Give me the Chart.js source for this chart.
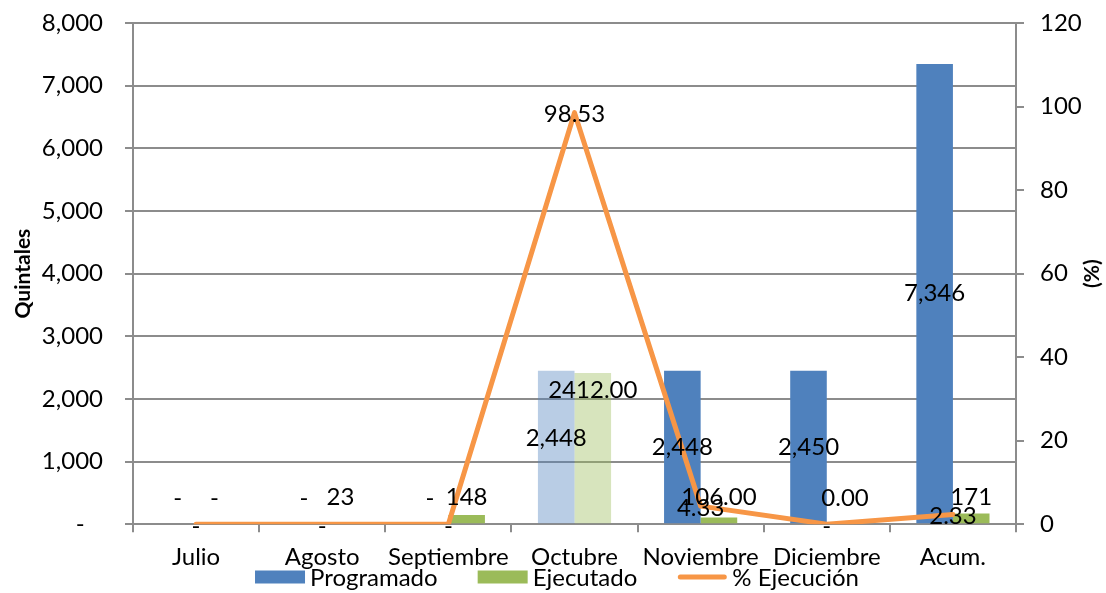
<!DOCTYPE html>
<html><head><meta charset="utf-8">
<script src="https://cdn.jsdelivr.net/npm/chart.js@4/dist/chart.umd.min.js"></script>
<style>html,body{margin:0;padding:0;background:#fff}#wrap{width:1106px;height:593px}</style>
</head><body><div id="wrap"><canvas id="c" width="1106" height="593"></canvas></div>
<script>
// ---- data ----
const categories = ['Julio', 'Agosto', 'Septiembre', 'Octubre', 'Noviembre', 'Diciembre', 'Acum.'];
const programado = [0, 0, 0, 2448, 2448, 2450, 7346];
const ejecutado = [0, 23, 148, 2412, 106, 0, 171];
const ejecucionPct = [0, 0, 0, 98.53, 4.33, 0, 2.33];
const seriesNames = ['Programado', 'Ejecutado', '% Ejecución'];
const ejecutadoFormat = ['acct', 'acct', 'acct', 'dec', 'dec', 'dec', 'acct'];
const leftTickStep = 1000, leftMax = 8000;
const rightTickStep = 20, rightMax = 120;

// ---- styles ----
const FONT = 'Lato';
const FS = 24;
const BLUE = '#4F81BD', GREEN = '#9BBB59', ORANGE = '#F79646';
const BLUE_LIGHT = 'rgba(79,129,189,0.4)', GREEN_LIGHT = 'rgba(155,187,89,0.4)';
const GRID = '#8c8c8c';
const highlightIndex = 3;
const progLabelPos = ['out', 'out', 'out', 'midhi', 'mid', 'mid', 'mid'];
const ejecLabelPos = ['out', 'out', 'out', 'in', 'out', 'out', 'out'];

const acct = v => v === 0 ? '-' : v.toLocaleString('en-US');
const fmtEjec = (v, i) => ejecutadoFormat[i] === 'dec' ? v.toFixed(2) : acct(v);
const fmtPct = v => v === 0 ? '-' : v.toFixed(2);

const labelsPlugin = {
  id: 'labels',
  afterDatasetsDraw(chart) {
    const ctx = chart.ctx;
    ctx.save();
    ctx.font = FS + 'px ' + FONT;
    ctx.fillStyle = '#000';
    ctx.textAlign = 'center';
    ctx.textBaseline = 'middle';
    const place = (el, mode) => {
      if (mode === 'mid') return (el.y + el.base) / 2;
      if (mode === 'midhi') return (el.y + el.base) / 2 - 9;
      if (mode === 'in') return el.y + 17;
      return Math.min(el.y - 12, el.base - 26);
    };
    chart.getDatasetMeta(0).data.forEach((el, i) => {
      ctx.fillText(acct(programado[i]), el.x, place(el, progLabelPos[i]));
    });
    chart.getDatasetMeta(1).data.forEach((el, i) => {
      ctx.fillText(fmtEjec(ejecutado[i], i), el.x, place(el, ejecLabelPos[i]));
    });
    chart.getDatasetMeta(2).data.forEach((el, i) => {
      ctx.fillText(fmtPct(ejecucionPct[i]), el.x, el.y + 2);
    });
    ctx.restore();
  },
  afterDraw(chart) {
    const ctx = chart.ctx;
    const ca = chart.chartArea;
    ctx.save();
    ctx.fillStyle = '#000';
    ctx.font = 'bold 21px ' + FONT;
    ctx.textAlign = 'center';
    ctx.textBaseline = 'middle';
    const midY = (ca.top + ca.bottom) / 2;
    ctx.translate(23, midY); ctx.rotate(-Math.PI / 2); ctx.fillText('Quintales', 0, 0);
    ctx.setTransform(1, 0, 0, 1, 0, 0);
    ctx.translate(1092, midY); ctx.rotate(-Math.PI / 2); ctx.fillText('(%)', 0, 0);
    ctx.setTransform(1, 0, 0, 1, 0, 0);
    // legend
    ctx.font = FS + 'px ' + FONT;
    ctx.textAlign = 'left';
    const boxW = 50, boxH = 13, gap = 5, spacing = 40, ly = 577;
    const widths = seriesNames.map(n => boxW + gap + ctx.measureText(n).width);
    const total = widths.reduce((a, b) => a + b, 0) + spacing * (widths.length - 1);
    let x = 557 - total / 2;
    const ds = chart.data.datasets;
    seriesNames.forEach((n, i) => {
      const d = ds[i];
      if (d.type === 'line') {
        ctx.strokeStyle = d.borderColor; ctx.lineWidth = 5; ctx.lineCap = 'round';
        ctx.beginPath(); ctx.moveTo(x + 3, ly); ctx.lineTo(x + boxW - 3, ly); ctx.stroke();
      } else {
        ctx.fillStyle = d.legendColor;
        ctx.fillRect(x, ly - boxH / 2, boxW, boxH);
      }
      ctx.fillStyle = '#000';
      ctx.fillText(n, x + boxW + gap, ly + 1);
      x += widths[i] + spacing;
    });
    ctx.restore();
  }
};

const noEdgePadding = s => { s.paddingTop = 0; s.paddingBottom = 0; };

new Chart(document.getElementById('c'), {
  data: {
    labels: categories,
    datasets: [
      { type: 'bar', label: seriesNames[0], data: programado, yAxisID: 'y', order: 1,
        legendColor: BLUE,
        backgroundColor: categories.map((c, i) => i === highlightIndex ? BLUE_LIGHT : BLUE),
        borderWidth: 0, categoryPercentage: 0.58, barPercentage: 1 },
      { type: 'bar', label: seriesNames[1], data: ejecutado, yAxisID: 'y', order: 1,
        legendColor: GREEN,
        backgroundColor: categories.map((c, i) => i === highlightIndex ? GREEN_LIGHT : GREEN),
        borderWidth: 0, categoryPercentage: 0.58, barPercentage: 1 },
      { type: 'line', label: seriesNames[2], data: ejecucionPct, yAxisID: 'y1', order: 0,
        borderColor: ORANGE, backgroundColor: ORANGE, borderWidth: 5, pointRadius: 0,
        tension: 0, borderCapStyle: 'round', borderJoinStyle: 'round' }
    ]
  },
  options: {
    responsive: false,
    devicePixelRatio: 1,
    animation: false,
    layout: { padding: { top: 23, bottom: 10, left: 0, right: 0 } },
    plugins: { legend: { display: false }, tooltip: { enabled: false } },
    scales: {
      x: {
        offset: true,
        grid: { display: true, offset: true, drawOnChartArea: false, drawTicks: true, tickLength: 8, color: GRID, lineWidth: 2 },
        border: { display: true, color: GRID, width: 2 },
        ticks: { color: '#000', font: { family: FONT, size: FS }, padding: 11, maxRotation: 0, autoSkip: false }
      },
      y: {
        position: 'left', min: 0, max: leftMax,
        ticks: { stepSize: leftTickStep, color: '#000', font: { family: FONT, size: FS }, padding: 22,
          callback: v => v === 0 ? '-   ' : v.toLocaleString('en-US') },
        grid: { color: GRID, lineWidth: 2, tickLength: 8 },
        border: { display: true, color: GRID, width: 2 },
        afterFit: s => { s.width = 133; noEdgePadding(s); }
      },
      y1: {
        position: 'right', min: 0, max: rightMax,
        ticks: { stepSize: rightTickStep, color: '#000', font: { family: FONT, size: FS }, padding: 16 },
        grid: { drawOnChartArea: false, drawTicks: true, tickLength: 8, color: GRID, lineWidth: 2 },
        border: { display: true, color: GRID, width: 2 },
        afterFit: s => { s.width = 90; noEdgePadding(s); }
      }
    }
  },
  plugins: [labelsPlugin]
});
</script>
</body></html>
